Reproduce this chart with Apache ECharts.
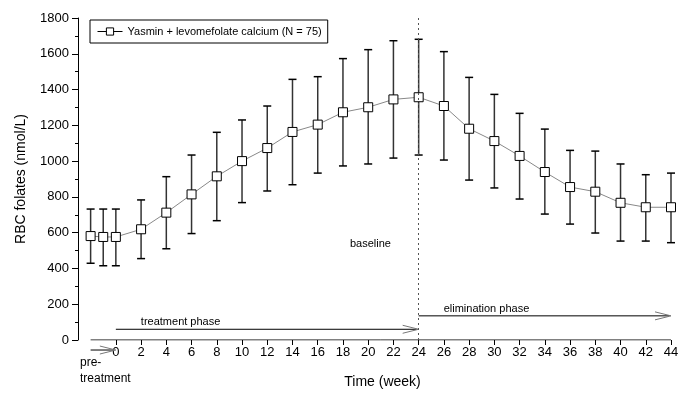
<!DOCTYPE html>
<html>
<head>
<meta charset="utf-8">
<script src="https://cdn.jsdelivr.net/npm/echarts@6/dist/echarts.min.js"></script>
<style>
  html, body { margin: 0; padding: 0; background: #fff; }
  #chart { width: 691px; height: 396px; }
</style>
</head>
<body>
<div id="chart"></div>
<script>
// weeks (pre-treatment points at -2, -1, 0)
const weeks = [-2, -1, 0, 2, 4, 6, 8, 10, 12, 14, 16, 18, 20, 22, 24, 26, 28, 30, 32, 34, 36, 38, 40, 42, 44]
// mean RBC folates (nmol/L)
const means = [581, 576, 576, 619, 712, 814, 915, 1000, 1073, 1163, 1204, 1273, 1301, 1345, 1357, 1308, 1181, 1112, 1029, 939, 855, 829, 767, 742, 742]
// error bar ends
const upper = [732, 732, 732, 783, 913, 1034, 1161, 1230, 1308, 1457, 1472, 1573, 1623, 1673, 1681, 1612, 1468, 1373, 1267, 1179, 1060, 1056, 984, 924, 933]
const lower = [429, 415, 415, 455, 510, 595, 667, 768, 833, 868, 933, 973, 984, 1017, 1034, 1006, 894, 850, 788, 704, 648, 598, 553, 553, 544]
// x tick labels
const xTicks = [0, 2, 4, 6, 8, 10, 12, 14, 16, 18, 20, 22, 24, 26, 28, 30, 32, 34, 36, 38, 40, 42, 44]
// phase arrows: start week, end week, height
const phaseStart = [-2, 0, 24]
const phaseEnd = [0, 24, 44]
const phaseY = [-56, 60, 135]
const phaseNames = ['', 'treatment phase', 'elimination phase']

const seriesName = 'Yasmin + levomefolate calcium (N = 75)'
const font = "'Liberation Sans', Arial, sans-serif"

const chart = echarts.init(document.getElementById('chart'))

const option = {
  animation: false,
  textStyle: { fontFamily: font },
  grid: { left: 78, right: 20, top: 18, bottom: 56 },
  legend: {
    data: [seriesName],
    left: 90,
    top: 20,
    orient: 'horizontal',
    padding: [6, 6, 6, 7],
    borderColor: '#000',
    borderWidth: 1,
    itemWidth: 25,
    itemHeight: 9,
    itemGap: 5,
    lineStyle: { color: '#000', width: 1 },
    itemStyle: { color: '#fff', borderColor: '#000', borderWidth: 1 },
    textStyle: { fontSize: 11, color: '#000', fontFamily: font }
  },
  xAxis: {
    type: 'value',
    min: -3,
    max: 44,
    name: 'Time (week)',
    nameLocation: 'middle',
    nameGap: 35,
    nameTextStyle: { fontSize: 14, color: '#000', padding: [0, 0, 0, 16] },
    axisLine: { show: false, onZero: false },
    axisTick: { show: true, length: 5, customValues: xTicks, lineStyle: { color: '#000' } },
    axisLabel: { customValues: xTicks, fontSize: 13, color: '#000', margin: 6 },
    splitLine: { show: false }
  },
  yAxis: {
    type: 'value',
    min: 0,
    max: 1800,
    interval: 200,
    name: 'RBC folates (nmol/L)',
    nameLocation: 'middle',
    nameGap: 50,
    nameTextStyle: { fontSize: 14, color: '#000' },
    axisLine: { show: true, onZero: false, lineStyle: { color: '#000' } },
    axisTick: { show: true, length: 6, lineStyle: { color: '#000' } },
    minorTick: { show: true, splitNumber: 2, length: 3, lineStyle: { color: '#000' } },
    axisLabel: { fontSize: 13, color: '#000', margin: 9, formatter: v => String(v) },
    splitLine: { show: false }
  },
  graphic: [
    { type: 'text', left: 80, top: 355, style: { text: 'pre-\ntreatment', fontSize: 12, lineHeight: 16, fill: '#000', font: '12px ' + font } },
    { type: 'text', left: 350, top: 238, style: { text: 'baseline', fill: '#000', font: '11px ' + font } }
  ],
  series: [
    {
      // x axis line from -2 to 44
      type: 'line',
      data: [[-2, 0], [44, 0]],
      symbol: 'none',
      silent: true,
      lineStyle: { color: '#000', width: 1 },
      z: 1
    },
    {
      type: 'custom',
      name: 'errors',
      silent: true,
      z: 2,
      data: weeks.map((w, i) => [w, lower[i], upper[i]]),
      renderItem (params, api) {
        const top = api.coord([api.value(0), api.value(2)])
        const bot = api.coord([api.value(0), api.value(1)])
        const w = 4
        const style = { stroke: '#333', lineWidth: 1.5 }
        return {
          type: 'group',
          children: [
            { type: 'line', shape: { x1: top[0], y1: top[1], x2: bot[0], y2: bot[1] }, style },
            { type: 'line', shape: { x1: top[0] - w, y1: top[1], x2: top[0] + w, y2: top[1] }, style: { stroke: '#000', lineWidth: 1.5 } },
            { type: 'line', shape: { x1: bot[0] - w, y1: bot[1], x2: bot[0] + w, y2: bot[1] }, style: { stroke: '#000', lineWidth: 1.5 } }
          ]
        }
      }
    },
    {
      type: 'custom',
      name: 'phases',
      silent: true,
      clip: false,
      z: 2,
      data: phaseStart.map((s, i) => [s, phaseEnd[i], phaseY[i]]),
      renderItem (params, api) {
        const a = api.coord([api.value(0), api.value(2)])
        const b = api.coord([api.value(1), api.value(2)])
        const children = [
          { type: 'line', shape: { x1: a[0], y1: a[1], x2: b[0] - 2, y2: b[1] }, style: { stroke: '#000', lineWidth: 1 } },
          { type: 'polyline', shape: { points: [[b[0] - 16, b[1] - 4], [b[0], b[1]], [b[0] - 16, b[1] + 4]] }, style: { stroke: '#777', lineWidth: 1, fill: null } }
        ]
        const name = phaseNames[params.dataIndex]
        if (name) {
          children.push({
            type: 'text',
            x: a[0] + 25,
            y: a[1] - 7,
            style: { text: name, font: '11px ' + font, fill: '#000', verticalAlign: 'middle' }
          })
        }
        return { type: 'group', children }
      }
    },
    {
      type: 'line',
      name: seriesName,
      data: weeks.map((w, i) => [w, means[i]]),
      symbol: 'rect',
      symbolSize: 9,
      z: 3,
      itemStyle: { color: '#fff', borderColor: '#000', borderWidth: 1 },
      lineStyle: { color: '#888', width: 1 },
      markLine: {
        silent: true,
        symbol: 'none',
        label: { show: false },
        lineStyle: { color: '#555', type: [2, 3], width: 1 },
        data: [{ xAxis: 24 }]
      }
    }
  ]
}

chart.setOption(option)
</script>
</body>
</html>
